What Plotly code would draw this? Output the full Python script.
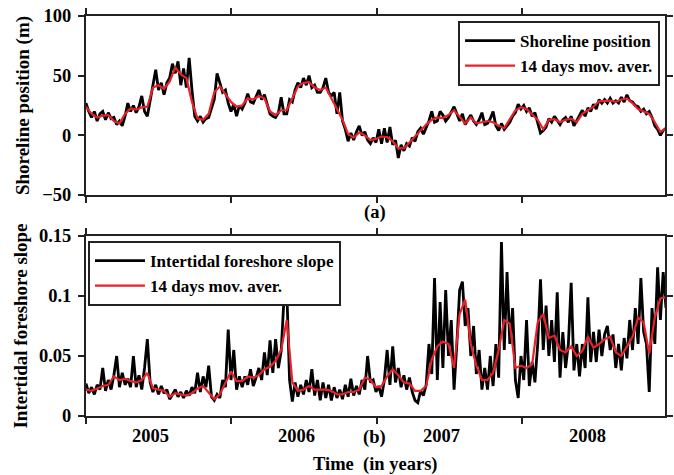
import plotly.graph_objects as go

# ---------------- data ----------------
years = ["2005", "2006", "2007", "2008"]
year_len = 365.25

# 14 days moving average, shoreline position (m), one value every 14 days
shore_avg = [24, 18, 15, 16.5, 17, 12, 10, 18, 22.5, 21.5, 23.5, 24, 40, 42, 39, 45, 57, 51, 48, 28,
             14, 13, 18, 36, 41, 34, 28, 24, 25, 31, 30, 33, 31, 20, 17, 21, 21, 31, 41, 44,
             44.5, 40, 38, 40, 31, 22, 13, 1, -2, 2.5, 0, -4, -3, -1, -1.5, -5, -11, -11, -6, -1,
             3.5, 9, 13, 15, 14.5, 17, 21, 15, 10, 15, 10, 11, 12, 11, 8, 6, 13, 21, 23.5, 22,
             17.5, 13, 5, 13, 13.5, 11, 13, 14, 11, 18, 21, 24, 28.5, 29, 29, 28, 30, 31, 27, 22,
             20, 18, 11, 3, 5.5]

# raw shoreline position (m), one value every 7 days
shore_raw = [27, 20, 15, 20, 12, 18, 20, 13, 19, 14,
             15, 9, 12, 8, 16, 27, 20, 25, 19, 24,
             33, 20, 16, 28, 42, 55, 38, 44, 34, 44,
             48, 60, 52, 62, 42, 56, 40, 65, 38, 16,
             12, 16, 11, 14, 15, 22, 30, 52, 44, 36,
             38, 27, 20, 26, 16, 25, 22, 27, 35, 28,
             27, 32, 38, 30, 34, 26, 18, 16, 15, 19,
             32, 18, 18, 30, 28, 38, 44, 40, 48, 42,
             50, 40, 42, 36, 36, 40, 48, 36, 33, 36,
             18, 36, 12, 5, -5, 2, -4, 3, 8, 0,
             3, -4, -7, -2, -6, 5, -7, 6, -6, 7,
             -8, -4, -19, -8, -13, -7, -9, -2, -5, 3,
             6, 1, 6, 12, 20, 11, 12, 20, 17, 12,
             15, 20, 24, 18, 12, 18, 9, 13, 17, 12,
             9, 13, 19, 9, 10, 14, 20, 8, 4, 10,
             5, 8, 11, 16, 19, 26, 22, 25, 20, 23,
             16, 19, 11, 2, 4, 7, 14, 11, 16, 12,
             9, 13, 15, 11, 16, 8, 12, 17, 21, 16,
             23, 20, 26, 22, 30, 27, 30, 27, 31, 27,
             29, 27, 32, 28, 34, 29, 28, 25, 24, 20,
             22, 18, 20, 15, 8, 5, 0, 4, 6]

# 14 days moving average, intertidal foreshore slope, one value every 14 days
slope_avg = [0.022, 0.021, 0.023, 0.025, 0.026, 0.033, 0.030, 0.031, 0.029, 0.028,
             0.030, 0.036, 0.023, 0.022, 0.021, 0.016, 0.019, 0.018, 0.017, 0.019,
             0.023, 0.025, 0.019, 0.014, 0.018, 0.028, 0.037, 0.029, 0.029, 0.033,
             0.032, 0.034, 0.039, 0.041, 0.046, 0.055, 0.080, 0.028, 0.021, 0.022,
             0.025, 0.022, 0.022, 0.022, 0.021, 0.018, 0.018, 0.020, 0.020, 0.022,
             0.032, 0.030, 0.024, 0.025, 0.033, 0.039, 0.034, 0.028, 0.027, 0.021,
             0.021, 0.025, 0.047, 0.058, 0.062, 0.060, 0.040, 0.085, 0.097, 0.060,
             0.042, 0.030, 0.030, 0.036, 0.055, 0.080, 0.077, 0.040, 0.042, 0.040,
             0.043, 0.078, 0.085, 0.065, 0.067, 0.055, 0.053, 0.058, 0.050, 0.054,
             0.066, 0.057, 0.060, 0.064, 0.066, 0.053, 0.050, 0.058, 0.066, 0.082,
             0.078, 0.052, 0.082, 0.098, 0.099]

# raw intertidal foreshore slope, one value every 7 days
slope_raw = [0.027, 0.019, 0.024, 0.018, 0.026, 0.022, 0.040, 0.021, 0.030, 0.022,
             0.034, 0.050, 0.024, 0.036, 0.026, 0.031, 0.024, 0.050, 0.024, 0.034,
             0.022, 0.040, 0.064, 0.028, 0.020, 0.026, 0.018, 0.025, 0.019, 0.022,
             0.014, 0.018, 0.022, 0.016, 0.020, 0.015, 0.021, 0.017, 0.024, 0.019,
             0.036, 0.020, 0.033, 0.024, 0.042, 0.016, 0.013, 0.018, 0.015, 0.030,
             0.024, 0.072, 0.030, 0.055, 0.022, 0.033, 0.024, 0.033, 0.026, 0.039,
             0.025, 0.032, 0.040, 0.030, 0.053, 0.034, 0.063, 0.036, 0.064, 0.040,
             0.054, 0.098, 0.106, 0.030, 0.012, 0.028, 0.016, 0.026, 0.018, 0.030,
             0.020, 0.039, 0.017, 0.030, 0.013, 0.028, 0.015, 0.026, 0.013, 0.024,
             0.015, 0.022, 0.014, 0.026, 0.016, 0.031, 0.017, 0.025, 0.018, 0.030,
             0.022, 0.050, 0.028, 0.030, 0.020, 0.025, 0.016, 0.030, 0.055, 0.026,
             0.058, 0.028, 0.040, 0.024, 0.034, 0.022, 0.032, 0.020, 0.013, 0.011,
             0.021, 0.017, 0.026, 0.060, 0.035, 0.115, 0.030, 0.095, 0.040, 0.105,
             0.050, 0.080, 0.022, 0.060, 0.105, 0.112, 0.075, 0.090, 0.050, 0.075,
             0.035, 0.055, 0.022, 0.040, 0.022, 0.050, 0.025, 0.060, 0.032, 0.145,
             0.055, 0.120, 0.060, 0.090, 0.030, 0.015, 0.050, 0.030, 0.080, 0.025,
             0.045, 0.028, 0.060, 0.114, 0.055, 0.092, 0.050, 0.080, 0.045, 0.103,
             0.032, 0.070, 0.040, 0.060, 0.111, 0.038, 0.060, 0.033, 0.060, 0.040,
             0.099, 0.045, 0.070, 0.045, 0.072, 0.050, 0.068, 0.075, 0.055, 0.068,
             0.040, 0.060, 0.038, 0.065, 0.048, 0.080, 0.055, 0.090, 0.060, 0.115,
             0.070, 0.060, 0.020, 0.090, 0.060, 0.124, 0.080, 0.120, 0.090]

# ---------------- figure ----------------
avg_days = [14 * i for i in range(len(shore_avg))]
raw_days = [7 * j for j in range(len(shore_raw))]
slope_avg_days = [14 * i for i in range(len(slope_avg))]
slope_raw_days = [7 * j for j in range(len(slope_raw))]

FONT = "Liberation Serif"
RED = "#e8212a"
W, H = 674, 475
ML, MR, MT, MB = 86, 1, 16, 59
plot_w = W - ML - MR
px_per_year = 147.5
xmax = plot_w / px_per_year * year_len
year_ticks = [k * year_len for k in range(5)]

fig = go.Figure()
fig.add_trace(go.Scatter(x=raw_days, y=shore_raw, mode="lines", name="Shoreline position",
                         line=dict(color="black", width=2.8), xaxis="x", yaxis="y",
                         legend="legend"))
fig.add_trace(go.Scatter(x=avg_days, y=shore_avg, mode="lines", name="14 days mov. aver.",
                         line=dict(color=RED, width=2.2), xaxis="x", yaxis="y",
                         legend="legend"))
fig.add_trace(go.Scatter(x=slope_raw_days, y=slope_raw, mode="lines", name="Intertidal foreshore slope",
                         line=dict(color="black", width=2.8), xaxis="x2", yaxis="y2",
                         legend="legend2"))
fig.add_trace(go.Scatter(x=slope_avg_days, y=slope_avg, mode="lines", name="14 days mov. aver.",
                         line=dict(color=RED, width=2.2), xaxis="x2", yaxis="y2",
                         legend="legend2"))

axis_common = dict(showline=True, linewidth=2, linecolor="#222", mirror="ticks",
                   ticks="outside", ticklen=6, tickwidth=2, tickcolor="#222",
                   showgrid=False, zeroline=False, ticklabelstandoff=3,
                   tickfont=dict(family=FONT, size=18.5, color="black", weight="bold"))

top_bottom_px = 195
bot_top_px = 236
plot_h = H - MT - MB

fig.update_layout(
    width=W, height=H,
    margin=dict(l=ML, r=MR, t=MT, b=MB),
    paper_bgcolor="white", plot_bgcolor="white",
    font=dict(family=FONT, size=18, color="black", weight="bold"),
    xaxis=dict(axis_common, domain=[0, 1], anchor="y", range=[0, xmax],
               tickvals=year_ticks, showticklabels=False),
    yaxis=dict(axis_common, domain=[(H - MB - top_bottom_px) / plot_h, 1], anchor="x",
               range=[-50, 100], tickvals=[-50, 0, 50, 100],
               title=dict(text="Shoreline position (m)", standoff=8,
                          font=dict(family=FONT, size=19, weight="bold"))),
    xaxis2=dict(axis_common, domain=[0, 1], anchor="y2", range=[0, xmax],
                tickvals=year_ticks, showticklabels=False),
    yaxis2=dict(axis_common, domain=[0, (H - MB - bot_top_px) / plot_h], anchor="x2",
                range=[0, 0.15], tickvals=[0, 0.05, 0.1, 0.15],
                ticktext=["0", "0.05", "0.1", "0.15"],
                title=dict(text="Intertidal foreshore slope", standoff=6,
                           font=dict(family=FONT, size=19, weight="bold"))),
    legend=dict(x=(668 - ML) / plot_w, y=(H - MB - 21) / plot_h, xanchor="right", yanchor="top",
                bgcolor="white", bordercolor="#222", borderwidth=2,
                font=dict(family=FONT, size=17, color="black", weight="bold"),
                tracegroupgap=0, itemwidth=50),
    legend2=dict(x=(88 - ML) / plot_w, y=(H - MB - 241) / plot_h, xanchor="left", yanchor="top",
                 bgcolor="white", bordercolor="#222", borderwidth=2,
                 font=dict(family=FONT, size=17, color="black", weight="bold"),
                 tracegroupgap=0, itemwidth=50),
    showlegend=True,
)

annotations = []
for k, yr in enumerate(years):
    annotations.append(dict(x=year_ticks[k] + 0.445 * year_len, y=(H - MB - 436) / plot_h,
                            xref="x2", yref="paper", text=yr, showarrow=False,
                            xanchor="center", yanchor="middle",
                            font=dict(family=FONT, size=18.5, weight="bold")))
annotations.append(dict(x=(379 - ML) / plot_w, y=(H - MB - 212) / plot_h, xref="paper", yref="paper",
                        text="(a)", showarrow=False, xanchor="center", yanchor="middle",
                        font=dict(family=FONT, size=18.5, weight="bold")))
annotations.append(dict(x=(378 - ML) / plot_w, y=(H - MB - 437) / plot_h, xref="paper", yref="paper",
                        text="(b)", showarrow=False, xanchor="center", yanchor="middle",
                        font=dict(family=FONT, size=18.5, weight="bold")))
annotations.append(dict(x=(379 - ML) / plot_w, y=(H - MB - 464) / plot_h, xref="paper", yref="paper",
                        text="Time  (in years)", showarrow=False, xanchor="center", yanchor="middle",
                        font=dict(family=FONT, size=18.5, weight="bold")))
fig.update_layout(annotations=annotations)

fig.write_html("out.html")
